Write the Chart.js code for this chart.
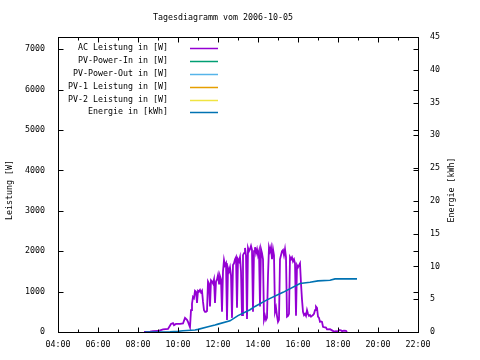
<!DOCTYPE html>
<html><head><meta charset="utf-8">
<script src="https://cdn.jsdelivr.net/npm/chart.js@4/dist/chart.umd.min.js"></script>
<style>html,body{margin:0;padding:0;background:#fff;}</style>
</head><body>
<canvas id="c" width="480" height="360"></canvas>
<script>
const chartTitle = 'Tagesdiagramm vom 2006-10-05';
const yTitle = 'Leistung [W]';
const y2Title = 'Energie [kWh]';
const seriesLabels = ['AC Leistung in [W]', 'PV-Power-In in [W]', 'PV-Power-Out in [W]', 'PV-1 Leistung in [W]', 'PV-2 Leistung in [W]', 'Energie in [kWh]'];
const seriesColors = ['#9400d3', '#009e73', '#56b4e9', '#e69f00', '#f0e442', '#0072b2'];

// AC power (hours of day, watts)
const acHours = [8.30,8.60,8.75,9.00,9.25,9.50,9.65,9.75,9.80,9.90,10.10,10.25,10.35,10.45,10.50,10.60,10.65,10.70,10.75,10.80,
10.85,10.90,10.95,11.00,11.05,11.10,11.15,11.20,11.25,11.30,11.35,11.40,11.45,11.50,11.55,11.60,11.65,11.70,11.75,11.80,
11.85,11.90,11.95,12.00,12.05,12.10,12.15,12.20,12.25,12.30,12.35,12.40,12.45,12.50,12.55,12.60,12.65,12.70,12.75,12.80,
12.85,12.90,12.95,13.00,13.05,13.10,13.15,13.20,13.25,13.30,13.35,13.40,13.45,13.50,13.55,13.60,13.65,13.70,13.75,13.80,
13.85,13.90,13.95,14.00,14.05,14.10,14.15,14.20,14.25,14.30,14.35,14.40,14.45,14.50,14.55,14.60,14.65,14.70,14.75,14.80,
14.85,14.90,14.95,15.00,15.05,15.10,15.15,15.20,15.25,15.30,15.35,15.40,15.45,15.50,15.55,15.60,15.65,15.70,15.75,15.80,
15.85,15.90,15.95,16.00,16.05,16.10,16.15,16.20,16.25,16.30,16.35,16.40,16.45,16.50,16.55,16.60,16.65,16.70,16.75,16.80,
16.85,16.90,16.95,17.00,17.05,17.10,17.15,17.20,17.25,17.30,17.40,17.45,17.60,17.70,17.80,17.90,18.00,18.05,18.15,18.20,
18.30,18.40,18.45];
const acWatts = [0,10,20,25,65,75,200,220,170,200,200,210,350,300,250,120,540,700,870,840,
1020,1000,720,1020,1000,1040,980,1020,750,540,500,500,520,1250,1200,630,1280,1250,1200,1300,
720,1250,1300,1410,1200,1380,1300,500,1500,1780,1650,1700,300,1580,1500,1600,1400,350,1660,1700,
1800,1850,600,1800,1750,1850,1500,420,1900,1950,2080,1900,320,2080,2000,2050,2130,2030,500,2000,
2100,1950,2050,1900,2000,630,2050,1950,1800,300,400,300,350,1400,2100,2000,2100,1800,2050,1900,
500,600,400,250,300,1800,1900,2000,2030,1900,2050,1850,380,400,450,1850,1800,1850,1750,1800,
1700,400,1650,1600,1650,1700,1200,800,500,420,450,400,540,450,400,420,380,400,420,450,
540,630,600,380,350,250,260,250,130,120,110,65,70,40,10,20,10,50,40,20,
35,30,0];

// Energy (hours of day, kWh)
const energyHours = [8.35,9.60,10.00,10.25,10.85,11.00,11.50,11.85,12.00,12.60,13.00,13.60,13.85,14.45,15.25,16.10,16.60,17.00,17.60,17.85,18.95];
const energyKWh = [0,0.02,0.1,0.2,0.3,0.4,0.8,1.07,1.2,1.7,2.5,3.4,3.9,4.9,6.05,7.4,7.6,7.8,7.9,8.1,8.1];

const xTicks = [4,6,8,10,12,14,16,18,20,22];
const xMinorTicks = [5,7,9,11,13,15,17,19,21];
const yTicks = [0,1000,2000,3000,4000,5000,6000,7000];
const y2Ticks = [0,5,10,15,20,25,30,35,40,45];

const FONT = 'DejaVu Sans Mono';
const FSIZE = 8.3;

function pts(xs, ys){ return xs.map((x,i)=>({x:x, y:ys[i]})); }

const datasets = seriesLabels.map((lab,i)=>({
  label: lab,
  data: [],
  borderColor: seriesColors[i],
  backgroundColor: seriesColors[i],
  borderWidth: i === 0 ? 1.8 : 1.6,
  pointRadius: 0,
  fill: false,
  tension: 0,
  yAxisID: i === 5 ? 'y2' : 'y',
  order: i === 5 ? 0 : 1
}));
datasets[0].data = pts(acHours, acWatts);
datasets[5].data = pts(energyHours, energyKWh);

const gnuFrame = {
  id: 'gnuFrame',
  afterDraw(chart){
    const ctx = chart.ctx, a = chart.chartArea;
    const sx = chart.scales.x, sy = chart.scales.y, sy2 = chart.scales.y2;
    ctx.save();
    ctx.strokeStyle = '#000'; ctx.fillStyle = '#000'; ctx.lineWidth = 1;
    ctx.strokeRect(Math.round(a.left)+0.5, Math.round(a.top)+0.5, Math.round(a.right-a.left), Math.round(a.bottom-a.top));
    const L = Math.round(a.left)+0.5, R = Math.round(a.right)+0.5, T = Math.round(a.top)+0.5, B = Math.round(a.bottom)+0.5;
    ctx.beginPath();
    xTicks.forEach(v=>{ const p = Math.round(sx.getPixelForValue(v))+0.5; ctx.moveTo(p,B); ctx.lineTo(p,B-5); ctx.moveTo(p,T); ctx.lineTo(p,T+5); });
    xMinorTicks.forEach(v=>{ const p = Math.round(sx.getPixelForValue(v))+0.5; ctx.moveTo(p,B); ctx.lineTo(p,B-3); ctx.moveTo(p,T); ctx.lineTo(p,T+3); });
    yTicks.forEach(v=>{ const p = Math.round(sy.getPixelForValue(v))+0.5; ctx.moveTo(L,p); ctx.lineTo(L+5,p); ctx.moveTo(R,p); ctx.lineTo(R-5,p); });
    y2Ticks.forEach(v=>{ const p = Math.round(sy2.getPixelForValue(v))+0.5; ctx.moveTo(R,p); ctx.lineTo(R-5,p); });
    ctx.stroke();

    ctx.font = FSIZE + 'px "' + FONT + '"';
    ctx.textBaseline = 'middle';
    ctx.textAlign = 'center';
    ctx.fillText(chartTitle, 223, 18);

    ctx.save(); ctx.translate(10, 190); ctx.rotate(-Math.PI/2); ctx.fillText(yTitle, 0, 0); ctx.restore();
    ctx.save(); ctx.translate(452, 190); ctx.rotate(-Math.PI/2); ctx.fillText(y2Title, 0, 0); ctx.restore();

    // key
    chart.data.datasets.forEach((ds,i)=>{
      const y = 48.3 + i*12.8;
      ctx.textAlign = 'right'; ctx.fillStyle = '#000';
      ctx.fillText(ds.label, 168, y);
      ctx.strokeStyle = ds.borderColor; ctx.lineWidth = 1.5;
      ctx.beginPath(); ctx.moveTo(190, Math.round(y)+0.5); ctx.lineTo(218, Math.round(y)+0.5); ctx.stroke();
    });
    ctx.restore();
  }
};

new Chart(document.getElementById('c'), {
  type: 'line',
  data: { datasets },
  options: {
    responsive: false,
    animation: false,
    devicePixelRatio: 1,
    layout: { padding: { top: 37, left: 0, right: 0, bottom: 0 } },
    plugins: { legend: { display: false }, title: { display: false }, tooltip: { enabled: false } },
    scales: {
      x: {
        type: 'linear', position: 'bottom', min: 4, max: 22,
        grid: { display: false, drawTicks: false }, border: { display: false },
        afterFit(s){ s.height = 28; },
        afterBuildTicks(s){ s.ticks = xTicks.map(v=>({value:v})); },
        ticks: { color: '#000', padding: 8, autoSkip: false, maxRotation: 0,
          font: { family: FONT, size: FSIZE },
          callback: v => String(v).padStart(2,'0') + ':00' }
      },
      y: {
        type: 'linear', position: 'left', min: 0, max: 7300,
        grid: { display: false, drawTicks: false }, border: { display: false },
        afterFit(s){ s.width = 58; },
        afterBuildTicks(s){ s.ticks = yTicks.map(v=>({value:v})); },
        ticks: { color: '#000', padding: 13, font: { family: FONT, size: FSIZE }, callback: v => String(v) }
      },
      y2: {
        type: 'linear', position: 'right', min: 0, max: 45,
        grid: { display: false, drawTicks: false, drawOnChartArea: false }, border: { display: false },
        afterFit(s){ s.width = 62; },
        afterBuildTicks(s){ s.ticks = y2Ticks.map(v=>({value:v})); },
        ticks: { color: '#000', padding: 12, font: { family: FONT, size: FSIZE }, callback: v => String(v) }
      }
    }
  },
  plugins: [gnuFrame]
});
</script>
</body></html>
